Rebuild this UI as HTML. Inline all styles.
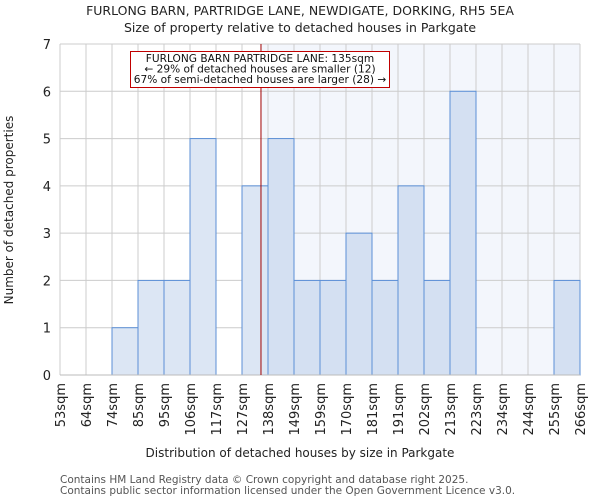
<!DOCTYPE html>
<html><head><meta charset="utf-8"><style>
body{margin:0;background:#fff;}
svg{display:block;font-family:"DejaVu Sans","Liberation Sans",sans-serif;}
</style></head><body>
<svg id="c" width="600" height="500" viewBox="0 0 600 500">
<text x="300" y="15" text-anchor="middle" font-size="12.5" fill="#222">FURLONG BARN, PARTRIDGE LANE, NEWDIGATE, DORKING, RH5 5EA</text>
<text x="300" y="32" text-anchor="middle" font-size="12.5" fill="#222">Size of property relative to detached houses in Parkgate</text>
<g id="g"></g>
<text x="300" y="457" text-anchor="middle" font-size="12" fill="#222">Distribution of detached houses by size in Parkgate</text>
<text transform="translate(13,210) rotate(-90)" text-anchor="middle" font-size="12" fill="#222">Number of detached properties</text>
<text x="60" y="483" font-size="10.5" fill="#555">Contains HM Land Registry data © Crown copyright and database right 2025.</text>
<text x="60" y="494" font-size="10.5" fill="#555">Contains public sector information licensed under the Open Government Licence v3.0.</text>
</svg>
<script>
const binLabels=["53sqm","64sqm","74sqm","85sqm","95sqm","106sqm","117sqm","127sqm","138sqm","149sqm","159sqm","170sqm","181sqm","191sqm","202sqm","213sqm","223sqm","234sqm","244sqm","255sqm","266sqm"];
const counts=[0,0,1,2,2,5,0,4,5,2,2,3,2,4,2,6,0,0,0,2];
const yTicks=[0,1,2,3,4,5,6,7];
const markerBin=7.73;
const L=60,R=580,T=44,B=375,yMax=7;
const NS="http://www.w3.org/2000/svg";
const g=document.getElementById('g');
const n=counts.length;
function xs(i){return L+(R-L)*i/n;}
function ys(v){return B-(B-T)*v/yMax;}
function mk(t,a){const e=document.createElementNS(NS,t);for(const k in a)e.setAttribute(k,a[k]);g.appendChild(e);return e;}
const mx=xs(markerBin);
let e=mk('rect',{x:mx,y:T,width:R-mx,height:B-T,fill:'#f3f6fc'});


for(let i=0;i<=n;i++){e=mk('line',{x1:xs(i),x2:xs(i),y1:T,y2:B,stroke:'#cccccc','stroke-width':1});

}
yTicks.forEach(v=>{e=mk('line',{x1:L,x2:R,y1:ys(v),y2:ys(v),stroke:'#cccccc','stroke-width':1});


e=mk('text',{x:L-9,y:ys(v)+5,'text-anchor':'end','font-size':13,fill:'#222'});e.textContent=v;

});
counts.forEach((c,i)=>{if(c<=0)return;
e=mk('rect',{x:xs(i),y:ys(c),width:xs(i+1)-xs(i),height:B-ys(c),fill:(i+0.5>markerBin)?'#d4e0f2':'#dce6f4',stroke:'#5b8fd6','stroke-width':1});

});
binLabels.forEach((l,i)=>{e=mk('text',{transform:`translate(${xs(i)+5},${B+8}) rotate(-90)`,'text-anchor':'end','font-size':13,fill:'#222'});e.textContent=l;

});
e=mk('line',{x1:L,x2:R,y1:B,y2:B,stroke:'#bbb','stroke-width':1});


e=mk('line',{x1:mx,x2:mx,y1:T,y2:B,stroke:'#a00000','stroke-width':1});


e=mk('rect',{x:130.5,y:51.5,width:259,height:36,fill:'#fff',stroke:'#c00000','stroke-width':1});


["FURLONG BARN PARTRIDGE LANE: 135sqm","← 29% of detached houses are smaller (12)","67% of semi-detached houses are larger (28) →"].forEach((t,k)=>{
e=mk('text',{x:260,y:62+k*10.5,'text-anchor':'middle','font-size':10.6,fill:'#111'});e.textContent=t;

});
</script>
</body></html>
